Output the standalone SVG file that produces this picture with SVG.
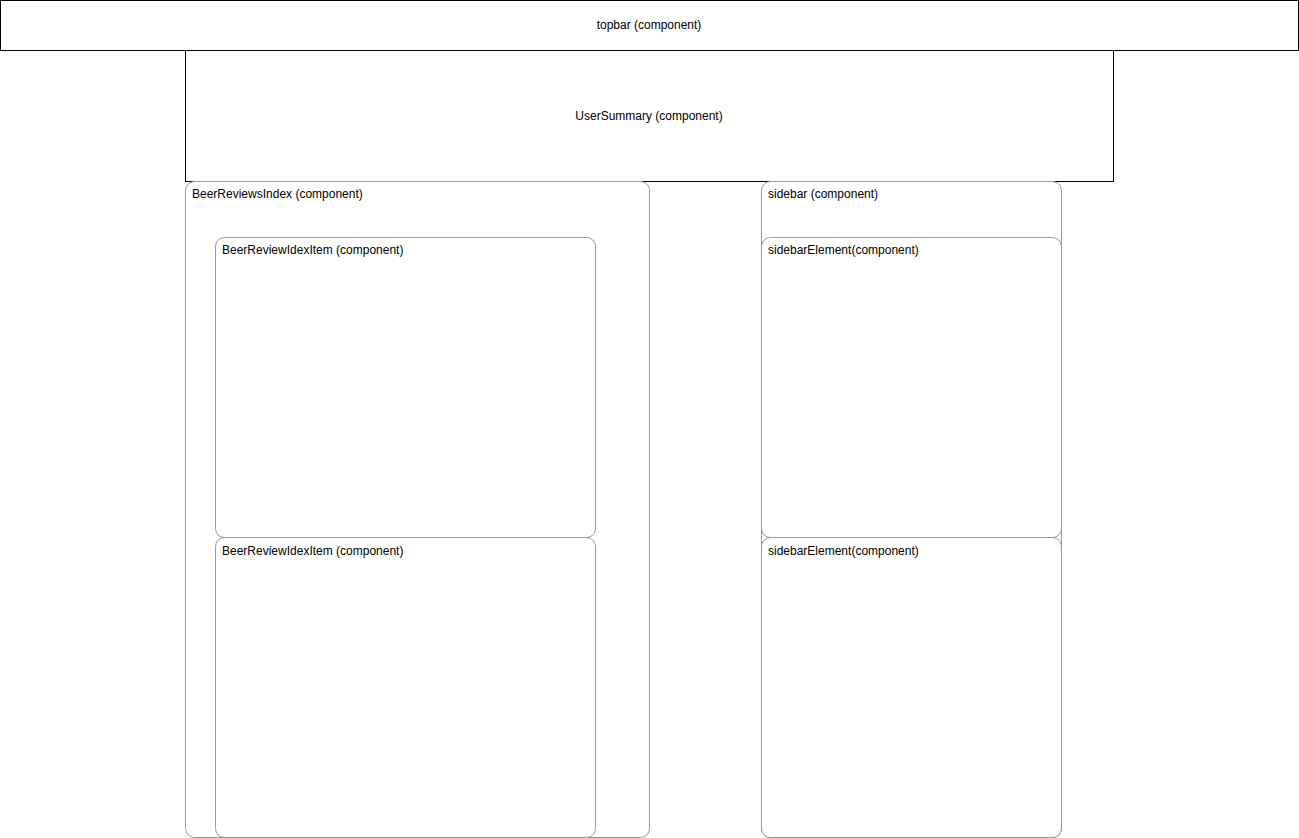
<svg xmlns="http://www.w3.org/2000/svg" width="1299" height="838" viewBox="0 0 1299 838">
<style>
.bg{fill:#ffffff}
.sq{fill:#ffffff;stroke:#000000;stroke-width:1}
.rd{fill:#ffffff;stroke:#999999;stroke-width:1}
.t{font-family:"Liberation Sans",Arial,sans-serif;font-size:12px;fill:#000000}
.c{text-anchor:middle}
</style>
<rect class="bg" x="0" y="0" width="1299" height="838"/>
<g id="connectors"></g>
<g id="topbar">
<rect class="sq" x="0.5" y="0.5" width="1298" height="50"/>
<text class="t c" x="649" y="29">topbar (component)</text>
</g>
<g id="usersummary">
<rect class="sq" x="185.5" y="50.5" width="928" height="131"/>
<text class="t c" x="649" y="120">UserSummary (component)</text>
</g>
<g id="beerreviewsindex">
<rect class="rd" x="185.5" y="181.5" width="464" height="656" rx="9" ry="9"/>
<text class="t" x="192" y="198">BeerReviewsIndex (component)</text>
</g>
<g id="item1">
<rect class="rd" x="215.5" y="237.5" width="380" height="300" rx="9" ry="9"/>
<text class="t" x="222" y="254">BeerReviewIdexItem (component)</text>
</g>
<g id="item2">
<rect class="rd" x="215.5" y="537.5" width="380" height="300" rx="9" ry="9"/>
<text class="t" x="222" y="555">BeerReviewIdexItem (component)</text>
</g>
<g id="sidebar">
<rect class="rd" x="761.5" y="181.5" width="300" height="656" rx="9" ry="9"/>
<text class="t" x="768" y="198">sidebar (component)</text>
</g>
<g id="sidebarelement1">
<rect class="rd" x="761.5" y="237.5" width="300" height="300" rx="9" ry="9"/>
<text class="t" x="768" y="254">sidebarElement(component)</text>
</g>
<g id="sidebarelement2">
<rect class="rd" x="761.5" y="537.5" width="300" height="300" rx="9" ry="9"/>
<text class="t" x="768" y="555">sidebarElement(component)</text>
</g>
</svg>
